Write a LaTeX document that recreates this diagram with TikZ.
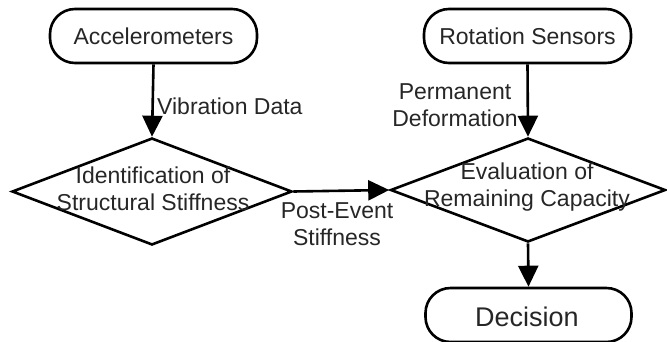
\documentclass[tikz,border=0pt]{standalone}
\usepackage{fontspec}
\setmainfont{Liberation Sans}
\usetikzlibrary{shapes.geometric,arrows.meta}
\begin{document}
\begin{tikzpicture}[x=1pt,y=-1pt,
  every node/.style={text=black!85},
  term/.style={draw=black,line width=2.6pt,rounded corners=25pt,inner sep=0pt},
  decide/.style={draw=black,line width=2.6pt,diamond,inner sep=0pt},
  lbl/.style={font=\fontsize{23}{27}\selectfont,align=center,inner sep=0pt},
  flow/.style={line width=2.6pt,-{Triangle[length=21pt,width=20pt]}}]
\useasboundingbox (0,0) rectangle (667,341);
\node[term,minimum width=207pt,minimum height=54pt] (acc) at (153.5,36) {};
\node[lbl] at (acc.center) {Accelerometers};
\node[term,minimum width=207pt,minimum height=54pt] (rot) at (527.5,36) {};
\node[lbl] at (rot.center) {Rotation Sensors};
\node[decide,minimum width=280pt,minimum height=107pt] (id) at (152,191.5) {};
\node[lbl] (idt) at (153,189) {Identification of\\Structural Stiffness};
\node[decide,minimum width=275pt,minimum height=104pt] (ev) at (528,190) {};
\node[lbl] (evt) at (527,187) {Evaluation of\\Remaining Capacity};
\node[term,minimum width=206pt,minimum height=54pt] (dec) at (528.5,315) {};
\node[lbl,font=\fontsize{27}{30}\selectfont] at (527,317) {Decision};
\draw[flow] (acc.south) -- (id.north);
\draw[flow] (rot.south) -- (ev.north);
\draw[flow] (id.east) -- (ev.west);
\draw[flow] (ev.south) -- (dec.north);
\node[lbl,anchor=west] (vib) at (157,106) {Vibration Data};
\node[lbl] (perm) at (455,105) {Permanent\\Deformation};
\node[lbl] (post) at (337,224) {Post-Event\\Stiffness};
\end{tikzpicture}
\end{document}
